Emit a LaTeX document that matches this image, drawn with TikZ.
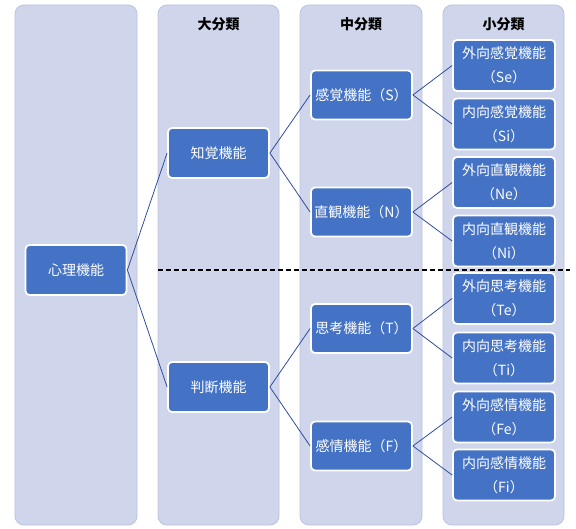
\documentclass[tikz,border=0pt]{standalone}
\usepackage{fontspec}
\setmainfont{Noto Sans CJK JP}
\definecolor{panelfill}{HTML}{CFD5EA}
\definecolor{paneldraw}{HTML}{B9C3E1}
\definecolor{boxfill}{HTML}{4472C4}
\definecolor{linkcol}{HTML}{2F4E9E}
\tikzset{
  panel/.style={draw=paneldraw, fill=panelfill, line width=0.8pt, rounded corners=9pt},
  fnbox/.style={draw=white, fill=boxfill, line width=1.8pt, rounded corners=4pt,
    minimum width=101pt, minimum height=50pt, inner sep=0pt, text=white,
    font=\fontsize{14pt}{16pt}\selectfont, align=center},
  leafbox/.style={fnbox, minimum width=102pt, minimum height=51pt,
    font=\fontsize{14pt}{24pt}\selectfont},
  head/.style={font=\fontsize{14pt}{16pt}\selectfont\bfseries, text=black},
  link/.style={draw=linkcol, line width=0.8pt},
  sep/.style={draw=black, line width=1.4pt, dash pattern=on 5pt off 3pt}
}
\begin{document}
\begin{tikzpicture}[x=1pt,y=-1pt]
\useasboundingbox (0,0) rectangle (576,529);
% panels
\draw[panel] (15,5) rectangle (137,525);
\draw[panel] (158,5) rectangle (279,525);
\draw[panel] (300,5) rectangle (422,525);
\draw[panel] (443,5) rectangle (564,525);
% headers
\node[head] (h2) at (218.5,24) {大分類};
\node[head] (h3) at (361,24) {中分類};
\node[head] (h4) at (503.5,24) {小分類};
% separator
\coordinate (sepL) at (158,270);
\coordinate (sepR) at (570,270);
\draw[sep] (sepL) -- (sepR);
% nodes
\node[fnbox] (root) at (76,270) {心理機能};
\node[fnbox] (per) at (218.5,153) {知覚機能};
\node[fnbox] (jud) at (218.5,387) {判断機能};
\node[fnbox, minimum height=49pt] (S) at (361.5,95) {感覚機能（S）};
\node[fnbox, minimum height=49pt] (N) at (361.5,212) {直観機能（N）};
\node[fnbox, minimum height=49pt] (T) at (361.5,328.5) {思考機能（T）};
\node[fnbox, minimum height=49pt] (F) at (361.5,446) {感情機能（F）};
\node[leafbox] (Se) at (504,65.5) {外向感覚機能\\（Se）};
\node[leafbox] (Si) at (504,124) {内向感覚機能\\（Si）};
\node[leafbox] (Ne) at (504,182.5) {外向直観機能\\（Ne）};
\node[leafbox] (Ni) at (504,241) {内向直観機能\\（Ni）};
\node[leafbox] (Te) at (504,298.5) {外向思考機能\\（Te）};
\node[leafbox] (Ti) at (504,358) {内向思考機能\\（Ti）};
\node[leafbox] (Fe) at (504,417) {外向感情機能\\（Fe）};
\node[leafbox] (Fi) at (504,475) {内向感情機能\\（Fi）};
% links
\foreach \a/\b in {root/per, root/jud, per/S, per/N, jud/T, jud/F,
  S/Se, S/Si, N/Ne, N/Ni, T/Te, T/Ti, F/Fe, F/Fi}
  \draw[link] (\a.east) -- (\b.west);
\end{tikzpicture}
\end{document}
